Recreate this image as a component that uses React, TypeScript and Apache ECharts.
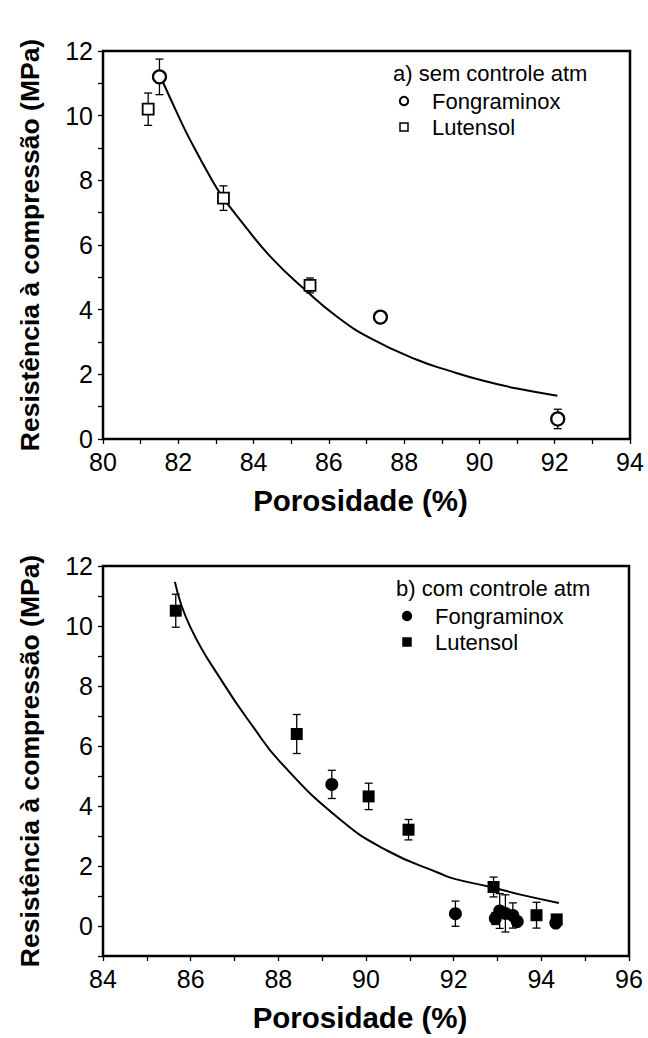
import React, { useEffect, useRef } from "react";
import * as echarts from "echarts";

// Panel a) sem controle atm
const aFongX = [81.5, 87.37, 92.08];
const aFongY = [11.2, 3.77, 0.62];
const aFongErr = [0.55, 0.1, 0.3];
const aLutX = [81.2, 83.2, 85.5];
const aLutY = [10.2, 7.45, 4.75];
const aLutErr = [0.5, 0.38, 0.23];
const aFitX = [81.55, 82.0, 82.31, 82.89, 83.2, 83.64, 84.44, 85.42, 86.21, 87.1, 88.34, 89.23, 90.11, 91.0, 92.07];
const aFitY = [11.15, 10.0, 9.26, 8.02, 7.45, 6.78, 5.65, 4.56, 3.79, 3.12, 2.45, 2.1, 1.8, 1.56, 1.34];

// Panel b) com controle atm
const bFongX = [89.22, 92.04, 92.95, 93.05, 93.18, 93.35, 93.45, 94.33];
const bFongY = [4.72, 0.41, 0.25, 0.5, 0.42, 0.35, 0.15, 0.1];
const bFongErr = [0.47, 0.42, 0.2, 0.58, 0.62, 0.42, 0.1, 0.1];
const bLutX = [85.66, 88.42, 90.06, 90.97, 92.91, 93.89, 94.35];
const bLutY = [10.51, 6.4, 4.32, 3.21, 1.3, 0.36, 0.22];
const bLutErr = [0.55, 0.65, 0.44, 0.34, 0.33, 0.43, 0.1];
const bFitX = [85.64, 85.99, 86.75, 87.43, 88.04, 89.41, 90.5, 91.69, 92.0, 92.84, 93.6, 94.4];
const bFitY = [11.47, 9.97, 8.08, 6.63, 5.47, 3.55, 2.5, 1.75, 1.58, 1.3, 1.02, 0.77];

const FONT = "Liberation Sans, Arial, sans-serif";

const zip3 = (a: number[], b: number[], c: number[]) => a.map((v, i) => [v, b[i], c[i]]);
const zip2 = (a: number[], b: number[]) => a.map((v, i) => [v, b[i]]);

function errSeries(data: number[][], idx: number) {
  return {
    type: "custom",
    xAxisIndex: idx,
    yAxisIndex: idx,
    z: 1,
    silent: true,
    data,
    renderItem: (params: any, api: any) => {
      const x = api.value(0);
      const y = api.value(1);
      const e = api.value(2);
      const t = api.coord([x, y + e]);
      const b = api.coord([x, y - e]);
      const hw = 4;
      const st = { stroke: "#000", lineWidth: 1.3 };
      return {
        type: "group",
        children: [
          { type: "line", shape: { x1: t[0], y1: t[1], x2: b[0], y2: b[1] }, style: st },
          { type: "line", shape: { x1: t[0] - hw, y1: t[1], x2: t[0] + hw, y2: t[1] }, style: st },
          { type: "line", shape: { x1: b[0] - hw, y1: b[1], x2: b[0] + hw, y2: b[1] }, style: st },
        ],
      };
    },
  };
}

function xAxisCfg(idx: number, min: number, max: number) {
  return {
    type: "value",
    gridIndex: idx,
    min,
    max,
    interval: 1,
    name: "Porosidade (%)",
    nameLocation: "middle",
    nameGap: 46,
    nameTextStyle: { fontFamily: FONT, fontSize: 29.5, fontWeight: "bold", color: "#000", padding: [0, 12, 0, 0] },
    axisLine: { show: true, onZero: false, lineStyle: { color: "#000", width: 2 } },
    axisTick: { show: true, inside: false, length: 5, lineStyle: { color: "#000", width: 1.3 } },
    axisLabel: {
      margin: 10,
      fontFamily: FONT,
      fontSize: 25,
      color: "#000",
      formatter: (v: number) => (Math.round(v) % 2 === 0 ? String(Math.round(v)) : ""),
    },
    splitLine: { show: false },
  };
}

function yAxisCfg(idx: number, min: number, max: number) {
  return {
    type: "value",
    gridIndex: idx,
    min,
    max,
    interval: 1,
    name: "Resistência à compressão (MPa)",
    nameLocation: "middle",
    nameGap: 60,
    nameTextStyle: { fontFamily: FONT, fontSize: 26.5, fontWeight: "bold", color: "#000" },
    axisLine: { show: true, onZero: false, lineStyle: { color: "#000", width: 2 } },
    axisTick: { show: true, inside: false, length: 5, lineStyle: { color: "#000", width: 1.3 } },
    axisLabel: {
      margin: 10,
      fontFamily: FONT,
      fontSize: 25,
      color: "#000",
      formatter: (v: number) => (Math.round(v) >= 0 && Math.round(v) % 2 === 0 ? String(Math.round(v)) : ""),
    },
    splitLine: { show: false },
  };
}

function legendGroup(x: number, y: number, title: string, filled: boolean) {
  const ts = { fontFamily: FONT, fontSize: 22, fill: "#000" };
  return {
    type: "group",
    children: [
      { type: "text", x, y, style: { ...ts, text: title, textVerticalAlign: "middle" } },
      {
        type: "circle",
        shape: { cx: x + 11, cy: y + 28, r: 4.2 },
        style: { fill: filled ? "#000" : "#fff", stroke: "#000", lineWidth: 2 },
      },
      { type: "text", x: x + 39, y: y + 28, style: { ...ts, text: "Fongraminox", textVerticalAlign: "middle" } },
      {
        type: "rect",
        shape: { x: x + 7, y: y + 50, width: 8, height: 8 },
        style: { fill: filled ? "#000" : "#fff", stroke: "#000", lineWidth: 1.5 },
      },
      { type: "text", x: x + 39, y: y + 54, style: { ...ts, text: "Lutensol", textVerticalAlign: "middle" } },
    ],
  };
}

export default function App() {
  const ref = useRef<HTMLDivElement>(null);
  useEffect(() => {
    if (!ref.current) return;
    const chart = echarts.init(ref.current, null, { renderer: "svg" });
    const lineCommon = {
      type: "line",
      smooth: 0.5,
      showSymbol: false,
      symbol: "none",
      lineStyle: { color: "#000", width: 2 },
      z: 2,
    };
    const option: any = {
      animation: false,
      backgroundColor: "#fff",
      grid: [
        { left: 103, right: 18, top: 51, height: 388, show: true, borderColor: "#000", borderWidth: 2.5, containLabel: false },
        { left: 103, right: 19, top: 566, height: 390, show: true, borderColor: "#000", borderWidth: 2.5, containLabel: false },
      ],
      xAxis: [xAxisCfg(0, 80, 94), xAxisCfg(1, 84, 96)],
      yAxis: [yAxisCfg(0, 0, 12), yAxisCfg(1, -1, 12)],
      series: [
        errSeries(zip3(aFongX, aFongY, aFongErr), 0),
        errSeries(zip3(aLutX, aLutY, aLutErr), 0),
        { ...lineCommon, xAxisIndex: 0, yAxisIndex: 0, data: zip2(aFitX, aFitY) },
        {
          type: "scatter",
          name: "Fongraminox",
          xAxisIndex: 0,
          yAxisIndex: 0,
          data: zip2(aFongX, aFongY),
          symbol: "circle",
          symbolSize: 13,
          itemStyle: { color: "#fff", borderColor: "#000", borderWidth: 2.2, opacity: 1 },
          z: 3,
        },
        {
          type: "scatter",
          name: "Lutensol",
          xAxisIndex: 0,
          yAxisIndex: 0,
          data: zip2(aLutX, aLutY),
          symbol: "rect",
          symbolSize: 11,
          itemStyle: { color: "#fff", borderColor: "#000", borderWidth: 1.8, opacity: 1 },
          z: 3,
        },
        errSeries(zip3(bFongX, bFongY, bFongErr), 1),
        errSeries(zip3(bLutX, bLutY, bLutErr), 1),
        { ...lineCommon, xAxisIndex: 1, yAxisIndex: 1, data: zip2(bFitX, bFitY) },
        {
          type: "scatter",
          name: "Fongraminox",
          xAxisIndex: 1,
          yAxisIndex: 1,
          data: zip2(bFongX, bFongY),
          symbol: "circle",
          symbolSize: 13,
          itemStyle: { color: "#000", opacity: 1 },
          z: 3,
        },
        {
          type: "scatter",
          name: "Lutensol",
          xAxisIndex: 1,
          yAxisIndex: 1,
          data: zip2(bLutX, bLutY),
          symbol: "rect",
          symbolSize: 12,
          itemStyle: { color: "#000", opacity: 1 },
          z: 3,
        },
      ],
      graphic: [legendGroup(393, 73, "a) sem controle atm", false), legendGroup(396, 588, "b) com controle atm", true)],
    };
    chart.setOption(option);
    return () => chart.dispose();
  }, []);
  return (
    <div
      ref={ref}
      style={{ position: "absolute", left: 0, top: 0, width: 648, height: 1038, background: "#fff" }}
    />
  );
}
